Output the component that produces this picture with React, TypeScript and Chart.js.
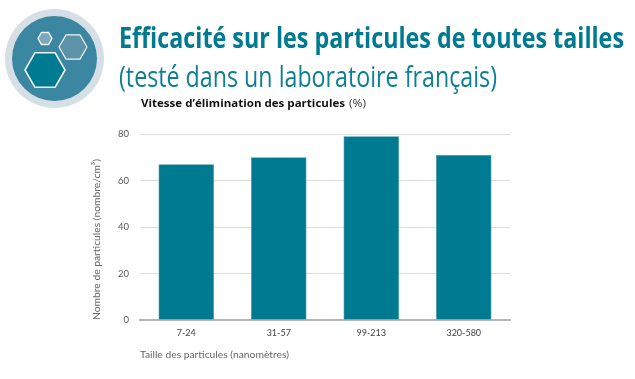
import React, { useEffect, useRef } from "react";
import { Chart, registerables } from "chart.js";

Chart.register(...registerables);

const categories = ["7-24", "31-57", "99-213", "320-580"];
const values = [67, 70, 79, 71];
const yTicks = [0, 20, 40, 60, 80];
const titleLine1 = "Efficacité sur les particules de toutes tailles";
const titleLine2 = "(testé dans un laboratoire français)";
const heading = "Vitesse d’élimination des particules";
const yTitle = "Nombre de particules (nombre/cm³)";
const xTitle = "Taille des particules (nanomètres)";

const TEAL = "#007a90";
const HEAD = '"Open Sans", sans-serif';
const AXIS = 'Lato, "Open Sans", sans-serif';

function Hex({ cx, cy, r, fill, sw }: { cx: number; cy: number; r: number; fill: string; sw: number }) {
  const pts = [0, 60, 120, 180, 240, 300]
    .map((a) => {
      const t = (a * Math.PI) / 180;
      return `${cx + r * Math.cos(t)},${cy + r * Math.sin(t)}`;
    })
    .join(" ");
  return <polygon points={pts} fill={fill} stroke="#eef4f6" strokeWidth={sw} strokeLinejoin="round" />;
}

export default function App() {
  const ref = useRef<HTMLCanvasElement>(null);
  useEffect(() => {
    if (!ref.current) return;
    const chart = new Chart(ref.current, {
      type: "bar",
      data: {
        labels: categories,
        datasets: [
          {
            data: values,
            backgroundColor: TEAL,
            borderColor: "#2b95a6",
            borderWidth: 0.6,
            categoryPercentage: 0.6,
            barPercentage: 1,
          },
        ],
      },
      options: {
        responsive: false,
        animation: false,
        layout: { padding: { left: 90, right: 125, top: 134, bottom: 18 } },
        plugins: { legend: { display: false }, tooltip: { enabled: false } },
        scales: {
          x: {
            grid: { display: false, drawTicks: false },
            border: { display: true, color: "#b5b5b5", width: 2 },
            ticks: { color: "#444", font: { family: AXIS, size: 9 }, padding: 8 },
            title: {
              display: true,
              text: xTitle,
              align: "start",
              color: "#666",
              font: { family: AXIS, size: 10.3 },
              padding: { top: 3, bottom: 0 },
            },
            afterFit: (s: any) => {
              s.height = 41;
            },
          },
          y: {
            min: 0,
            max: 80,
            afterBuildTicks: (s: any) => {
              s.ticks = yTicks.map((v) => ({ value: v }));
            },
            grid: { color: "#dedede", lineWidth: 1, drawTicks: false },
            border: { display: false },
            ticks: { color: "#555", font: { family: AXIS, size: 9.5 }, padding: 11 },
            title: {
              display: true,
              text: yTitle,
              align: "start",
              color: "#666",
              font: { family: AXIS, size: 10.3 },
              padding: { top: 0, bottom: 8 },
            },
            afterFit: (s: any) => {
              s.width = 50;
            },
          },
        },
      },
    });
    return () => chart.destroy();
  }, []);

  return (
    <div style={{ position: "absolute", left: 0, top: 0, width: 635, height: 379, background: "#fff", overflow: "hidden" }}>
      <canvas ref={ref} width={635} height={379} style={{ position: "absolute", left: 0, top: 0, display: "block" }} />
      <svg width={635} height={130} style={{ position: "absolute", left: 0, top: 0 }}>
        <circle cx={54.5} cy={58.5} r={49.5} fill="#d6dfe5" />
        <circle cx={54.5} cy={58.5} r={42.5} fill="#3b86a0" />
        <Hex cx={45} cy={70} r={20} fill="#007a90" sw={1.6} />
        <Hex cx={73} cy={47} r={14} fill="#5c93a9" sw={1.2} />
        <Hex cx={45} cy={38.5} r={7} fill="#7ba8ba" sw={1.4} />
        <text x={119} y={47.5} textLength={505} lengthAdjust="spacingAndGlyphs" fontFamily={HEAD} fontWeight={700} fontSize={29} fill={TEAL}>
          {titleLine1}
        </text>
        <text x={119} y={86.5} textLength={378} lengthAdjust="spacingAndGlyphs" fontFamily={HEAD} fontSize={29} fill="#0d7f93">
          {titleLine2}
        </text>
        <text x={141} y={107} fontFamily={HEAD} fontWeight={700} fontSize={11} fill="#111" textLength={204} lengthAdjust="spacingAndGlyphs">
          {heading}
        </text>
        <text x={349} y={107} fontFamily={HEAD} fontSize={11} fill="#333" textLength={17} lengthAdjust="spacingAndGlyphs">
          (%)
        </text>
      </svg>
    </div>
  );
}
